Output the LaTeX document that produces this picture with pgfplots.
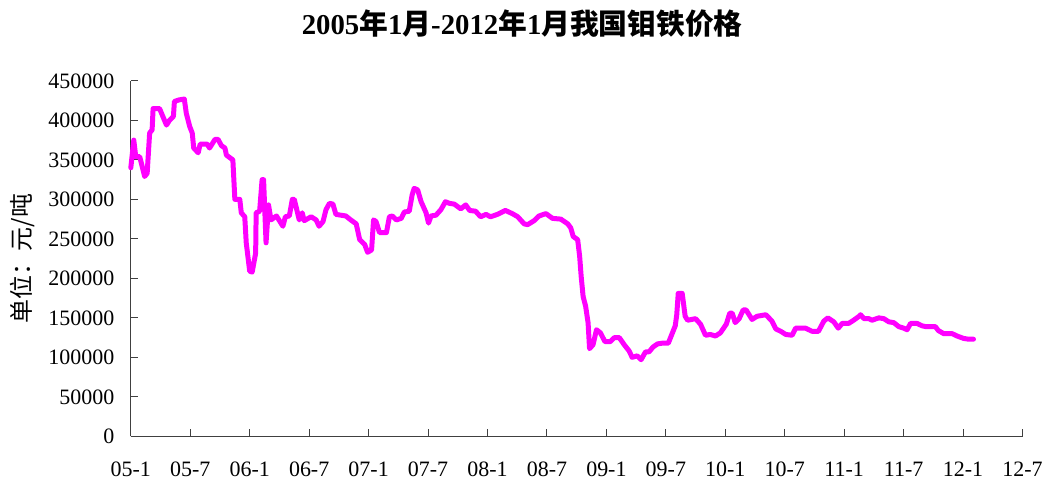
\documentclass[border=0pt]{standalone}
\usepackage{pgfplots}
\pgfplotsset{compat=1.18}
\usepackage{fontspec}
\setmainfont{Liberation Serif}
\newfontfamily\cjk{Noto Sans CJK SC}
\definecolor{mag}{RGB}{255,0,255}
\begin{document}
\begin{tikzpicture}[x=1pt,y=1pt]
\begin{axis}[
  scale only axis,
  width=893pt, height=356pt,
  xmin=0, xmax=90, ymin=0, ymax=450000,
  axis x line*=bottom, axis y line*=left,
  axis line style={-, line width=1.3pt, color=black!75},
  tick style={line width=1pt, color=black!75},
  tick align=inside,
  major tick length=7pt,
  xtick={0,6,...,90},
  xticklabels={05-1,05-7,06-1,06-7,07-1,07-7,08-1,08-7,09-1,09-7,10-1,10-7,11-1,11-7,12-1,12-7},
  ytick={0,50000,...,450000},
  scaled y ticks=false,
  /pgf/number format/fixed,
  /pgf/number format/1000 sep={},
  /pgf/number format/assume math mode=true,
  ticklabel style={font=\fontsize{22}{25}\selectfont},
  xticklabel style={yshift=-22pt},
  yticklabel style={xshift=-13pt},
  title={\bfseries 2005{\cjk 年}1{\cjk 月}-2012{\cjk 年}1{\cjk 月}{\cjk 我国钼铁价格}},
  title style={at={(axis description cs:0.439,1.143)}, anchor=center, font=\fontsize{28.8}{32}\selectfont},
  ylabel={\cjk 单位：元/吨},
  ylabel style={at={(axis description cs:-0.122,0.5)}, anchor=center, font=\fontsize{24}{28}\selectfont},
  clip=false,
]
\addplot[color=mag, line width=5pt, line join=round, line cap=round] coordinates {
(0.0,340000) (0.3,375000) (0.5,354000) (0.9,354000) (1.4,329000) (1.65,333000)
(1.9,384000) (2.15,388000) (2.25,415000) (2.9,415000) (3.6,394000) (3.9,400000)
(4.3,405000) (4.4,424000) (4.9,426000) (5.4,427000) (5.6,409000) (5.95,392000)
(6.2,384000) (6.35,365000) (6.8,359000) (7.0,370000) (7.7,370000) (7.95,365000)
(8.5,376000) (8.8,376000) (9.15,368000) (9.5,365000) (9.65,356000) (10.3,350000)
(10.5,300000) (11.0,300000) (11.15,283000) (11.5,278000) (11.65,245000) (12.0,209000)
(12.25,208000) (12.6,232000) (12.65,283000) (13.0,285000) (13.25,325000) (13.4,325000)
(13.65,245000) (13.9,293000) (14.15,274000) (14.7,279000) (15.35,266000) (15.6,278000)
(16.0,279000) (16.3,300000) (16.5,300000) (17.0,274000) (17.3,283000) (17.5,273000)
(18.2,278000) (18.7,274000) (19.0,266000) (19.4,272000) (19.7,287000) (20.05,295000)
(20.4,294000) (20.7,281000) (21.7,279000) (22.2,274000) (22.75,269000) (23.1,249000)
(23.6,243000) (23.9,233000) (24.3,236000) (24.5,274000) (24.75,272000) (25.1,258000)
(25.8,258000) (26.1,278000) (26.4,279000) (26.8,274000) (27.3,276000) (27.6,284000)
(28.1,285000) (28.4,306000) (28.6,314000) (28.95,312000) (29.3,297000) (29.8,283000)
(30.05,270000) (30.3,279000) (30.8,280000) (31.3,287000) (31.75,297000) (32.15,295000)
(32.65,294000) (33.3,288000) (33.8,293000) (34.2,286000) (34.8,285000) (35.3,278000)
(35.85,281000) (36.3,278000) (37.0,281000) (37.8,286000) (38.5,282000) (39.05,278000)
(39.7,269000) (40.05,268000) (40.7,273000) (41.2,279000) (41.9,282000) (42.55,276000)
(43.4,275000) (44.1,269000) (44.4,264000) (44.65,253000) (45.1,249000) (45.3,228000)
(45.45,203000) (45.65,177000) (45.9,165000) (46.15,144000) (46.3,111000) (46.65,116000)
(47.0,135000) (47.4,131000) (47.85,120000) (48.4,120000) (48.8,125000) (49.3,125000)
(49.8,116000) (50.3,108000) (50.6,100000) (51.1,102000) (51.5,97000) (51.95,107000)
(52.3,107000) (52.7,113000) (53.15,117000) (53.65,118000) (54.25,118000) (54.6,129000)
(54.95,140000) (55.1,154000) (55.25,181000) (55.65,181000) (55.95,152000) (56.2,147000)
(57.0,149000) (57.5,142000) (58.0,128000) (58.5,129000) (59.0,127000) (59.5,131000)
(60.1,142000) (60.45,156000) (60.7,156000) (61.0,144000) (61.4,149000) (61.8,160000)
(62.1,160000) (62.7,148000) (63.2,152000) (64.1,154000) (64.7,146000) (65.1,136000)
(65.6,133000) (66.1,129000) (66.75,128000) (67.1,137000) (68.1,137000) (68.75,133000)
(69.4,133000) (69.95,146000) (70.35,150000) (70.95,145000) (71.4,137000) (71.8,143000)
(72.45,143000) (72.95,147000) (73.5,152000) (73.65,154000) (74.0,149000) (74.5,149000)
(74.8,147000) (75.5,150000) (76.0,149000) (76.5,145000) (77.0,144000) (77.5,139000)
(78.0,137000) (78.35,135000) (78.7,143000) (79.35,143000) (79.85,140000) (80.2,139000)
(81.2,139000) (81.5,134000) (82.05,130000) (82.9,130000) (83.4,127000) (84.05,124000)
(84.55,123000) (85.05,123000)
};
\end{axis}
\path[use as bounding box] ([xshift=-131pt,yshift=-47pt]current axis.south west) rectangle ++(1046pt,484pt);
\end{tikzpicture}
\end{document}
